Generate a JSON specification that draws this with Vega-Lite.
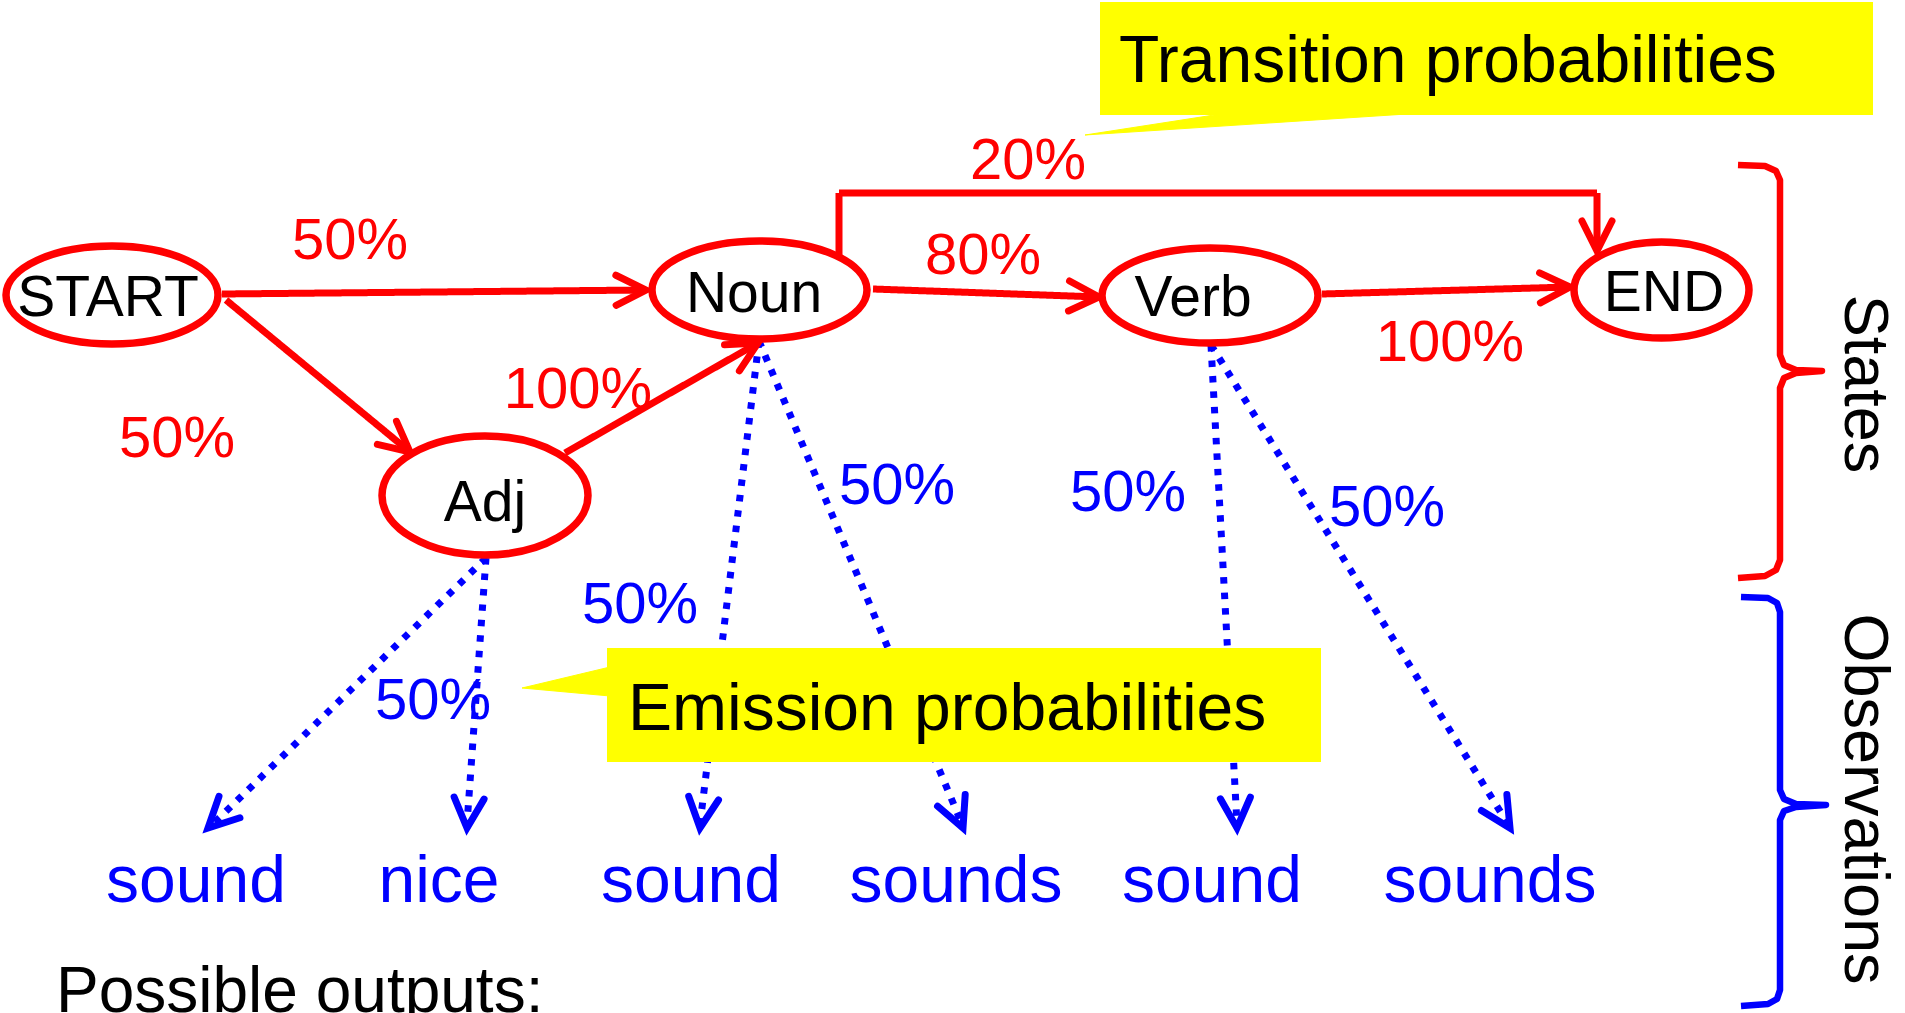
{
  "$schema": "https://vega.github.io/schema/vega-lite/v6.json",
  "width": 1905,
  "height": 1013,
  "autosize": {"type": "none"},
  "padding": 0,
  "background": "white",
  "config": {"view": {"stroke": null}, "text": {"font": "Liberation Sans"}},
  "datasets": {
    "edges": [
      {"edge": "START-Noun", "kind": "transition", "seq": 1, "x": 222, "y": 294},
      {"edge": "START-Noun", "kind": "transition", "seq": 2, "x": 646, "y": 290},
      {"edge": "START-Adj", "kind": "transition", "seq": 1, "x": 226, "y": 300},
      {"edge": "START-Adj", "kind": "transition", "seq": 2, "x": 410, "y": 452},
      {"edge": "Adj-Noun", "kind": "transition", "seq": 1, "x": 565, "y": 453},
      {"edge": "Adj-Noun", "kind": "transition", "seq": 2, "x": 758, "y": 343},
      {"edge": "Noun-Verb", "kind": "transition", "seq": 1, "x": 873, "y": 289},
      {"edge": "Noun-Verb", "kind": "transition", "seq": 2, "x": 1099, "y": 297},
      {"edge": "Verb-END", "kind": "transition", "seq": 1, "x": 1322, "y": 294},
      {"edge": "Verb-END", "kind": "transition", "seq": 2, "x": 1570, "y": 287},
      {"edge": "Noun-END", "kind": "transition", "seq": 1, "x": 839, "y": 257},
      {"edge": "Noun-END", "kind": "transition", "seq": 2, "x": 839, "y": 193},
      {"edge": "Noun-END", "kind": "transition", "seq": 3, "x": 1597, "y": 193},
      {"edge": "Noun-END", "kind": "transition", "seq": 4, "x": 1597, "y": 251},
      {"edge": "Adj-sound", "kind": "emission", "seq": 1, "x": 486, "y": 558},
      {"edge": "Adj-sound", "kind": "emission", "seq": 2, "x": 212, "y": 825},
      {"edge": "Adj-nice", "kind": "emission", "seq": 1, "x": 486, "y": 558},
      {"edge": "Adj-nice", "kind": "emission", "seq": 2, "x": 467, "y": 824},
      {"edge": "Noun-sound", "kind": "emission", "seq": 1, "x": 759, "y": 341},
      {"edge": "Noun-sound", "kind": "emission", "seq": 2, "x": 700, "y": 824},
      {"edge": "Noun-sounds", "kind": "emission", "seq": 1, "x": 759, "y": 341},
      {"edge": "Noun-sounds", "kind": "emission", "seq": 2, "x": 962, "y": 824},
      {"edge": "Verb-sound", "kind": "emission", "seq": 1, "x": 1211, "y": 345},
      {"edge": "Verb-sound", "kind": "emission", "seq": 2, "x": 1237, "y": 824},
      {"edge": "Verb-sounds", "kind": "emission", "seq": 1, "x": 1211, "y": 345},
      {"edge": "Verb-sounds", "kind": "emission", "seq": 2, "x": 1508, "y": 824}
    ],
    "heads": [
      {"kind": "transition", "x": 646, "y": 290, "angle": -0.5},
      {"kind": "transition", "x": 410, "y": 452, "angle": 39.7},
      {"kind": "transition", "x": 758, "y": 343, "angle": -29.7},
      {"kind": "transition", "x": 1099, "y": 297, "angle": 2},
      {"kind": "transition", "x": 1570, "y": 287, "angle": -1.6},
      {"kind": "transition", "x": 1597, "y": 251, "angle": 90},
      {"kind": "emission", "x": 208, "y": 828, "angle": 135.7},
      {"kind": "emission", "x": 467, "y": 828, "angle": 94},
      {"kind": "emission", "x": 700, "y": 828, "angle": 96.9},
      {"kind": "emission", "x": 963, "y": 828, "angle": 67.2},
      {"kind": "emission", "x": 1237, "y": 828, "angle": 86.9},
      {"kind": "emission", "x": 1510, "y": 828, "angle": 58.1}
    ],
    "nodes": [
      {"node": "START", "x": 112, "y": 295, "lx": 108, "ly": 299},
      {"node": "Noun", "x": 759.5, "y": 290, "lx": 754, "ly": 295},
      {"node": "Adj", "x": 485, "y": 495.5, "lx": 485, "ly": 504},
      {"node": "Verb", "x": 1210, "y": 295.5, "lx": 1193, "ly": 299},
      {"node": "END", "x": 1661.5, "y": 290, "lx": 1664, "ly": 294}
    ],
    "pct": [
      {"label": "50%", "kind": "transition", "x": 350, "y": 242},
      {"label": "50%", "kind": "transition", "x": 177, "y": 440},
      {"label": "100%", "kind": "transition", "x": 578, "y": 391},
      {"label": "80%", "kind": "transition", "x": 983, "y": 257},
      {"label": "20%", "kind": "transition", "x": 1028, "y": 162},
      {"label": "100%", "kind": "transition", "x": 1450, "y": 344},
      {"label": "50%", "kind": "emission", "x": 897, "y": 487},
      {"label": "50%", "kind": "emission", "x": 1128, "y": 494},
      {"label": "50%", "kind": "emission", "x": 1387, "y": 509},
      {"label": "50%", "kind": "emission", "x": 640, "y": 606},
      {"label": "50%", "kind": "emission", "x": 433, "y": 702}
    ],
    "callouts": [
      {"name": "Transition probabilities", "x": 1100, "x2": 1873, "y": 2, "y2": 115, "tx": 1119, "ty": 82},
      {"name": "Emission probabilities", "x": 607, "x2": 1321, "y": 648, "y2": 762, "tx": 628, "ty": 730}
    ],
    "pointers": [
      {"name": "Transition probabilities", "seq": 1, "x": 1227, "y": 113},
      {"name": "Transition probabilities", "seq": 2, "x": 1085, "y": 135},
      {"name": "Transition probabilities", "seq": 3, "x": 1422, "y": 113},
      {"name": "Emission probabilities", "seq": 1, "x": 610, "y": 667},
      {"name": "Emission probabilities", "seq": 2, "x": 522, "y": 688},
      {"name": "Emission probabilities", "seq": 3, "x": 610, "y": 696}
    ],
    "words": [
      {"word": "sound", "x": 196, "y": 882},
      {"word": "nice", "x": 439, "y": 882},
      {"word": "sound", "x": 691, "y": 882},
      {"word": "sounds", "x": 956, "y": 882},
      {"word": "sound", "x": 1212, "y": 882},
      {"word": "sounds", "x": 1490, "y": 882}
    ],
    "footer": [
      {"text": "Possible outputs:", "x": 56, "y": 1012}
    ],
    "braces": [
      {"brace": "States", "kind": "transition", "seq": 1, "x": 1738, "y": 165},
      {"brace": "States", "kind": "transition", "seq": 2, "x": 1765, "y": 166},
      {"brace": "States", "kind": "transition", "seq": 3, "x": 1776, "y": 171},
      {"brace": "States", "kind": "transition", "seq": 4, "x": 1780, "y": 180},
      {"brace": "States", "kind": "transition", "seq": 5, "x": 1780, "y": 355},
      {"brace": "States", "kind": "transition", "seq": 6, "x": 1784, "y": 365},
      {"brace": "States", "kind": "transition", "seq": 7, "x": 1796, "y": 370},
      {"brace": "States", "kind": "transition", "seq": 8, "x": 1822, "y": 371},
      {"brace": "States", "kind": "transition", "seq": 9, "x": 1796, "y": 373},
      {"brace": "States", "kind": "transition", "seq": 10, "x": 1784, "y": 378},
      {"brace": "States", "kind": "transition", "seq": 11, "x": 1780, "y": 388},
      {"brace": "States", "kind": "transition", "seq": 12, "x": 1780, "y": 560},
      {"brace": "States", "kind": "transition", "seq": 13, "x": 1776, "y": 570},
      {"brace": "States", "kind": "transition", "seq": 14, "x": 1765, "y": 576},
      {"brace": "States", "kind": "transition", "seq": 15, "x": 1738, "y": 578},
      {"brace": "Observations", "kind": "emission", "seq": 1, "x": 1741, "y": 597},
      {"brace": "Observations", "kind": "emission", "seq": 2, "x": 1768, "y": 598},
      {"brace": "Observations", "kind": "emission", "seq": 3, "x": 1777, "y": 603},
      {"brace": "Observations", "kind": "emission", "seq": 4, "x": 1780, "y": 612},
      {"brace": "Observations", "kind": "emission", "seq": 5, "x": 1780, "y": 790},
      {"brace": "Observations", "kind": "emission", "seq": 6, "x": 1784, "y": 799},
      {"brace": "Observations", "kind": "emission", "seq": 7, "x": 1796, "y": 804},
      {"brace": "Observations", "kind": "emission", "seq": 8, "x": 1826, "y": 805},
      {"brace": "Observations", "kind": "emission", "seq": 9, "x": 1796, "y": 807},
      {"brace": "Observations", "kind": "emission", "seq": 10, "x": 1784, "y": 811},
      {"brace": "Observations", "kind": "emission", "seq": 11, "x": 1780, "y": 820},
      {"brace": "Observations", "kind": "emission", "seq": 12, "x": 1780, "y": 990},
      {"brace": "Observations", "kind": "emission", "seq": 13, "x": 1777, "y": 999},
      {"brace": "Observations", "kind": "emission", "seq": 14, "x": 1768, "y": 1004},
      {"brace": "Observations", "kind": "emission", "seq": 15, "x": 1741, "y": 1006}
    ],
    "sides": [
      {"text": "States", "x": 1845, "y": 384},
      {"text": "Observations", "x": 1845, "y": 799}
    ]
  },
  "layer": [
    {
      "data": {"name": "edges"},
      "mark": {"type": "line", "strokeWidth": 7, "strokeCap": "butt", "strokeJoin": "miter"},
      "encoding": {
        "x": {"field": "x", "type": "quantitative", "scale": {"domain": [0, 1905], "nice": false, "zero": false}, "axis": null},
        "y": {"field": "y", "type": "quantitative", "scale": {"domain": [0, 1013], "nice": false, "zero": false, "reverse": true}, "axis": null},
        "detail": {"field": "edge", "type": "nominal"},
        "order": {"field": "seq", "type": "quantitative"},
        "color": {"field": "kind", "type": "nominal", "scale": {"domain": ["transition", "emission"], "range": ["#FF0000", "#0000FF"]}, "legend": null},
        "strokeDash": {"field": "kind", "type": "nominal", "scale": {"domain": ["transition", "emission"], "range": [[1, 0], [6.5, 9]]}, "legend": null}
      }
    },
    {
      "data": {"name": "heads"},
      "mark": {"type": "point", "shape": "M-30,-15L0,0L-30,15", "size": 4, "filled": false, "strokeWidth": 7, "strokeJoin": "miter", "strokeCap": "round", "opacity": 1},
      "encoding": {
        "x": {"field": "x", "type": "quantitative", "axis": null},
        "y": {"field": "y", "type": "quantitative", "axis": null},
        "angle": {"field": "angle", "type": "quantitative", "scale": null},
        "color": {"field": "kind", "type": "nominal", "legend": null}
      }
    },
    {
      "data": {"name": "nodes"},
      "mark": {"type": "point", "size": 4, "filled": true, "fill": "white", "stroke": "#FF0000", "strokeWidth": 7.5, "opacity": 1},
      "encoding": {
        "x": {"field": "x", "type": "quantitative", "axis": null},
        "y": {"field": "y", "type": "quantitative", "axis": null},
        "shape": {
          "field": "node", "type": "nominal", "legend": null,
          "scale": {
            "domain": ["START", "Noun", "Adj", "Verb", "END"],
            "range": [
              "M-106,0A106,49 0 1,1 106,0A106,49 0 1,1 -106,0Z",
              "M-107.5,0A107.5,49 0 1,1 107.5,0A107.5,49 0 1,1 -107.5,0Z",
              "M-103,0A103,59.5 0 1,1 103,0A103,59.5 0 1,1 -103,0Z",
              "M-108,0A108,47.5 0 1,1 108,0A108,47.5 0 1,1 -108,0Z",
              "M-87.5,0A87.5,48 0 1,1 87.5,0A87.5,48 0 1,1 -87.5,0Z"
            ]
          }
        }
      }
    },
    {
      "data": {"name": "nodes"},
      "mark": {"type": "text", "fontSize": 57, "color": "black", "align": "center", "baseline": "middle"},
      "encoding": {
        "x": {"field": "lx", "type": "quantitative", "axis": null},
        "y": {"field": "ly", "type": "quantitative", "axis": null},
        "text": {"field": "node", "type": "nominal"}
      }
    },
    {
      "data": {"name": "pct"},
      "mark": {"type": "text", "fontSize": 58, "align": "center", "baseline": "middle"},
      "encoding": {
        "x": {"field": "x", "type": "quantitative", "axis": null},
        "y": {"field": "y", "type": "quantitative", "axis": null},
        "text": {"field": "label", "type": "nominal"},
        "color": {"field": "kind", "type": "nominal", "legend": null}
      }
    },
    {
      "data": {"name": "callouts"},
      "mark": {"type": "rect", "color": "#FFFF00", "opacity": 1},
      "encoding": {
        "x": {"field": "x", "type": "quantitative", "axis": null},
        "x2": {"field": "x2"},
        "y": {"field": "y", "type": "quantitative", "axis": null},
        "y2": {"field": "y2"}
      }
    },
    {
      "data": {"name": "pointers"},
      "mark": {"type": "line", "color": "#FFFF00", "fill": "#FFFF00", "strokeWidth": 1},
      "encoding": {
        "x": {"field": "x", "type": "quantitative", "axis": null},
        "y": {"field": "y", "type": "quantitative", "axis": null},
        "detail": {"field": "name", "type": "nominal"},
        "order": {"field": "seq", "type": "quantitative"}
      }
    },
    {
      "data": {"name": "callouts"},
      "mark": {"type": "text", "fontSize": 66, "color": "black", "align": "left", "baseline": "alphabetic"},
      "encoding": {
        "x": {"field": "tx", "type": "quantitative", "axis": null},
        "y": {"field": "ty", "type": "quantitative", "axis": null},
        "text": {"field": "name", "type": "nominal"}
      }
    },
    {
      "data": {"name": "words"},
      "mark": {"type": "text", "fontSize": 66, "color": "#0000FF", "align": "center", "baseline": "middle"},
      "encoding": {
        "x": {"field": "x", "type": "quantitative", "axis": null},
        "y": {"field": "y", "type": "quantitative", "axis": null},
        "text": {"field": "word", "type": "nominal"}
      }
    },
    {
      "data": {"name": "footer"},
      "mark": {"type": "text", "fontSize": 64, "color": "black", "align": "left", "baseline": "alphabetic"},
      "encoding": {
        "x": {"field": "x", "type": "quantitative", "axis": null},
        "y": {"field": "y", "type": "quantitative", "axis": null},
        "text": {"field": "text", "type": "nominal"}
      }
    },
    {
      "data": {"name": "braces"},
      "mark": {"type": "line", "strokeWidth": 6.5, "strokeJoin": "round", "strokeCap": "butt"},
      "encoding": {
        "x": {"field": "x", "type": "quantitative", "axis": null},
        "y": {"field": "y", "type": "quantitative", "axis": null},
        "detail": {"field": "brace", "type": "nominal"},
        "order": {"field": "seq", "type": "quantitative"},
        "color": {"field": "kind", "type": "nominal", "legend": null}
      }
    },
    {
      "data": {"name": "sides"},
      "mark": {"type": "text", "fontSize": 63, "color": "black", "align": "center", "baseline": "alphabetic", "angle": 90},
      "encoding": {
        "x": {"field": "x", "type": "quantitative", "axis": null},
        "y": {"field": "y", "type": "quantitative", "axis": null},
        "text": {"field": "text", "type": "nominal"}
      }
    }
  ]
}
